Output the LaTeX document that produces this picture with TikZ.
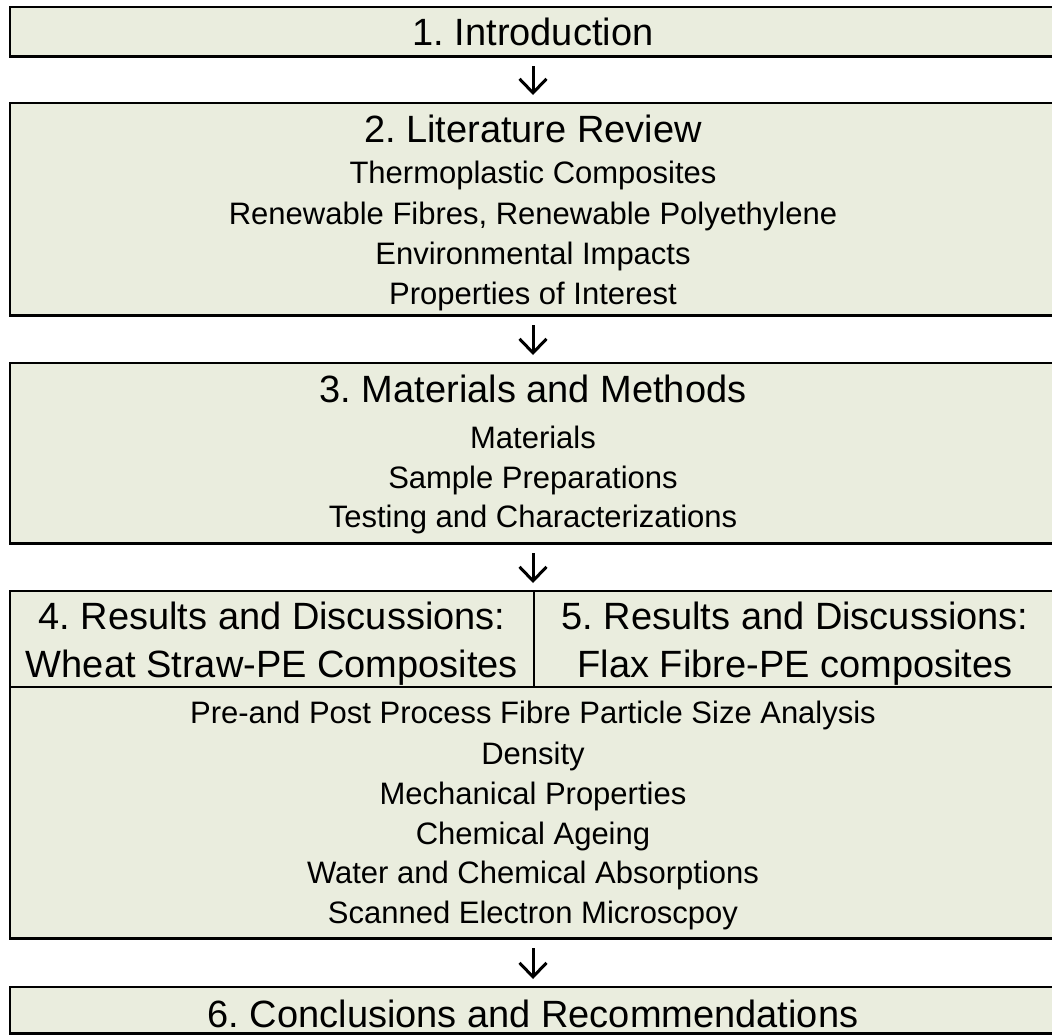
\documentclass[tikz,border=0pt]{standalone}
\usepackage{fontspec}
\setmainfont{Liberation Sans}
\usetikzlibrary{arrows.meta,shadows}
\definecolor{boxfill}{RGB}{234,237,222}
\frenchspacing
\tikzset{
  box/.style={rectangle, draw=black, fill=boxfill, line width=2.2pt, inner sep=0pt, outer sep=0pt},
  shd/.style={drop shadow={shadow xshift=-1.2pt, shadow yshift=-1.5pt, fill=black, opacity=1}},
  ttl/.style={anchor=base, inner sep=0pt, font=\fontsize{38}{40}\selectfont},
  sub/.style={anchor=base, inner sep=0pt, font=\fontsize{31}{34}\selectfont},
  flow/.style={line width=3pt, -{Straight Barb[length=14pt,width=27pt]}, shorten <=10pt, shorten >=8pt}
}
\begin{document}
\begin{tikzpicture}[x=1pt,y=-1pt]
\useasboundingbox (0,0) rectangle (1052,1034);
% boxes
\node[box, shd, minimum width=1046pt, minimum height=49pt]  (b1) at (533,31.5) {};
\node[box, shd, minimum width=1046pt, minimum height=212pt] (b2) at (533,209) {};
\node[box, shd, minimum width=1046pt, minimum height=180pt] (b3) at (533,453) {};
\node[box, shd, minimum width=524pt,  minimum height=96pt]  (h4) at (272,639) {};
\node[box, minimum width=522pt,  minimum height=96pt]  (h5) at (795,639) {};
\node[box, shd, minimum width=1046pt, minimum height=251pt] (bd) at (533,812.5) {};
\node[box, shd, minimum width=1046pt, minimum height=46pt]  (b6) at (533,1010) {};
% texts
\node[ttl] (t1) at (533,45) {1. Introduction};
\node[ttl] (t2) at (533,142) {2. Literature Review};
\node[sub] (t2a) at (533,183) {Thermoplastic Composites};
\node[sub] (t2b) at (533,224) {Renewable Fibres, Renewable Polyethylene};
\node[sub] (t2c) at (533,264) {Environmental Impacts};
\node[sub] (t2d) at (533,304) {Properties of Interest};
\node[ttl] (t3) at (533,402) {3. Materials and Methods};
\node[sub] (t3a) at (533,448) {Materials};
\node[sub] (t3b) at (533,488) {Sample Preparations};
\node[sub] (t3c) at (533,527) {Testing and Characterizations};
\node[ttl] (t4a) at (272,629) {4. Results and Discussions:};
\node[ttl] (t4b) at (272,677) {Wheat Straw-PE Composites};
\node[ttl] (t5a) at (795,629) {5. Results and Discussions:};
\node[ttl] (t5b) at (795,677) {Flax Fibre-PE composites};
\node[sub] (s1) at (533,723) {Pre-and Post Process Fibre Particle Size Analysis};
\node[sub] (s2) at (533,764) {Density};
\node[sub] (s3) at (533,804) {Mechanical Properties};
\node[sub] (s4) at (533,844) {Chemical Ageing};
\node[sub] (s5) at (533,883) {Water and Chemical Absorptions};
\node[sub] (s6) at (533,923) {Scanned Electron Microscpoy};
\node[ttl] (t6) at (533,1027) {6. Conclusions and Recommendations};
% connectors
\draw[flow] (b1.south) -- (b2.north);
\draw[flow] (b2.south) -- (b3.north);
\draw[flow] (b3.south) -- (b3.south |- h4.north);
\draw[flow] (bd.south) -- (b6.north);
\end{tikzpicture}
\end{document}
